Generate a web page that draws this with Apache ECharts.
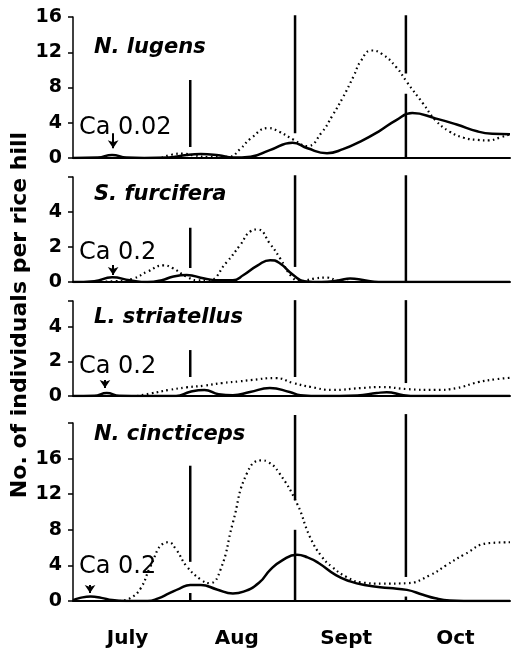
<!DOCTYPE html>
<html><head><meta charset="utf-8">
<script src="https://cdn.jsdelivr.net/npm/echarts@6/dist/echarts.min.js"></script>
<style>html,body{margin:0;padding:0;background:#fff}#c{width:514px;height:649px}</style>
</head><body><div id="c"></div>
<script>
// x values are days counted from 1 July
const months = ['July', 'Aug', 'Sept', 'Oct'];
const species = ['N. lugens', 'S. furcifera', 'L. striatellus', 'N. cincticeps'];
const caLabels = ['Ca 0.02', 'Ca 0.2', 'Ca 0.2', 'Ca 0.2'];
const yMax = [16, 6, 5.5, 20];
const yStep = [4, 2, 2, 4];
const yLabelMax = [16, 4, 4, 16];
const yTitle = 'No. of individuals per rice hill';

const lugensSolid = [[0,0],[7,0.05],[11,0.35],[15,0.05],[20,0],[27,0.05],[32,0.35],[36,0.45],[41,0.3],[45,0.05],[50,0.15],[55.4,0.9],[61.8,1.74],[66,1.1],[71.5,0.55],[76,1.0],[81,1.9],[86,3.0],[91,4.3],[95.5,5.1],[102,4.5],[108,3.8],[114,3.0],[118,2.75],[123,2.7]];
const lugensDotted = [[25,0],[28,0.4],[31,0.5],[34,0.3],[38,0.1],[44,0.15],[47,1.0],[50,2.2],[55,3.4],[58,3.0],[62,2.1],[66,1.35],[70,2.9],[73,4.8],[76,6.9],[79,9.3],[81,11.0],[84,12.2],[87,11.8],[91,10.3],[94,8.6],[98.5,6.2],[102,4.3],[106,3.0],[110,2.3],[114,2.05],[117,2.0],[120,2.3],[123,2.7]];

const furciferaSolid = [[0,0],[6,0.05],[11,0.27],[16,0.1],[21,0],[25,0.1],[28,0.3],[32,0.4],[37,0.2],[41,0.1],[45,0.1],[48,0.4],[52,0.95],[55.5,1.25],[58,1.1],[62,0.4],[65,0.05],[70,0],[75,0.1],[78,0.2],[82,0.1],[86,0],[123,0]];
const furciferaDotted = [[5,0],[12,0.05],[17,0.2],[21,0.6],[25.5,0.95],[28,0.8],[32,0.3],[35,0.1],[38,0.1],[43.3,1.15],[47,2.1],[50,2.9],[52,3.0],[55.4,2.2],[58.3,1.35],[61.6,0.3],[64,0.05],[68,0.2],[71.5,0.25],[75,0.05],[80,0],[123,0]];

const striatellusSolid = [[0,0],[6,0.02],[9.5,0.17],[13,0.02],[20,0],[29,0],[33,0.25],[37,0.35],[41,0.1],[45,0.05],[49.8,0.23],[55.4,0.46],[61,0.23],[64,0.05],[70,0],[80,0.03],[85.5,0.17],[88.3,0.22],[93,0.05],[97,0],[123,0]];
const striatellusDotted = [[18,0],[22,0.15],[27,0.35],[32,0.5],[37,0.6],[42,0.75],[47,0.85],[50,0.92],[57,1.04],[62,0.75],[67,0.52],[73,0.35],[81,0.46],[87,0.52],[94,0.4],[102,0.35],[108,0.46],[114,0.8],[119,0.97],[123,1.05]];

const cincticepsSolid = [[0,0.1],[2,0.35],[5,0.5],[8,0.35],[11,0.1],[15,0],[21,0],[24,0.3],[27,0.85],[30,1.4],[33,1.8],[36,1.8],[40.5,1.3],[45,0.85],[48,1.05],[52.5,2.1],[55.5,3.5],[59,4.6],[63,5.2],[66,4.9],[69,4.3],[74,2.9],[78,2.2],[82,1.8],[89,1.45],[94,1.25],[98.5,0.7],[102,0.3],[106,0.05],[110,0],[123,0]];
const cincticepsDotted = [[13,0],[16,0.3],[19,1.4],[21.7,3.8],[25.5,6.5],[26.8,6.6],[29,5.8],[32,3.9],[36,2.4],[38.5,2.0],[41.5,3.5],[45,8.8],[49,14.4],[53,15.8],[55,15.6],[58,14.4],[63,11],[66.7,7.2],[70,5.0],[73,3.8],[77,2.7],[81,2.1],[87,1.95],[94,2.0],[100.5,2.9],[105,4.0],[110,5.2],[117,6.5],[123,6.6]];

// vertical application markers: [day, from, to]
const vLines = [
  [[33,1.25,8.85],[62.5,2.8,16.2],[93.7,9.6,16.2],[93.7,0,7.3]],
  [[33,0.8,3.1],[62.5,0.86,6.1],[93.7,0,6.1]],
  [[33,1.1,2.66],[62.5,1.1,5.55],[93.7,0.75,5.55]],
  [[33,4.4,15.2],[33,0,0.9],[62.5,11.3,20.9],[62.5,0,8.0],[93.7,2.7,21],[93.7,0,0.5]]
];
// arrows under the Ca labels: [day, from, to]
const arrows = [[11.3,2.8,1.1],[11.3,0.97,0.4],[9,0.92,0.46],[4.8,1.8,0.9]];

const solids = [lugensSolid, furciferaSolid, striatellusSolid, cincticepsSolid];
const dotteds = [lugensDotted, furciferaDotted, striatellusDotted, cincticepsDotted];

const gridTop = [17, 177, 301, 423];
const gridH = [141, 105, 95, 178];
const titleY = [48, 195, 318, 435];
const caY = [128, 253, 367, 567];

const FONT = '"DejaVu Sans", sans-serif';
const grids = [], xAxes = [], yAxes = [], series = [], graphics = [];
for (let i = 0; i < 4; i++) {
  grids.push({left: 73, width: 437, top: gridTop[i], height: gridH[i]});
  xAxes.push({type: 'value', gridIndex: i, min: 0, max: 123,
    axisLine: {show: true, onZero: false, lineStyle: {color: '#000', width: 2}},
    axisTick: {show: false}, axisLabel: {show: false}, splitLine: {show: false}});
  const st = yStep[i], lm = yLabelMax[i];
  yAxes.push({type: 'value', gridIndex: i, min: 0, max: yMax[i], interval: st,
    axisLine: {show: true, lineStyle: {color: '#000', width: 1.5}},
    axisTick: {show: true, length: 5, lineStyle: {color: '#000', width: 1.5}},
    splitLine: {show: false},
    axisLabel: {margin: 11, color: '#000', fontFamily: FONT, fontWeight: 'bold', fontSize: 19,
      formatter: v => (v <= lm && Math.abs(v % st) < 1e-9) ? String(v) : ''}});
  series.push({type: 'line', xAxisIndex: i, yAxisIndex: i, data: dotteds[i], smooth: 0.5,
    showSymbol: false, silent: true, lineStyle: {color: '#000', width: 2.2, type: [1.6, 3.4]}});
  series.push({type: 'line', xAxisIndex: i, yAxisIndex: i, data: solids[i], smooth: 0.5,
    showSymbol: false, silent: true, lineStyle: {color: '#000', width: 2.5}});
  vLines[i].forEach(v => {
    series.push({type: 'line', xAxisIndex: i, yAxisIndex: i, data: [[v[0], v[1]], [v[0], v[2]]],
      showSymbol: false, symbol: 'none', clip: false, silent: true, z: 3,
      lineStyle: {color: '#000', width: 2.5}});
  });
  const a = arrows[i];
  series.push({type: 'line', xAxisIndex: i, yAxisIndex: i, data: [], silent: true,
    markLine: {silent: true, symbol: ['none', 'arrow'], symbolSize: 8, label: {show: false},
      lineStyle: {color: '#000', width: 2, type: 'solid'},
      data: [[{coord: [a[0], a[1]]}, {coord: [a[0], a[2]]}]]}});
  graphics.push({type: 'text', x: 94, y: titleY[i], style: {text: species[i], fill: '#000',
    font: 'italic bold 21px ' + FONT, align: 'left', verticalAlign: 'middle'}});
  graphics.push({type: 'text', x: 79, y: caY[i], style: {text: caLabels[i], fill: '#000',
    font: '24px ' + FONT, align: 'left', verticalAlign: 'middle'}});
}
xAxes.push({type: 'category', gridIndex: 3, data: months, position: 'bottom',
  axisLine: {show: false}, axisTick: {show: false},
  axisLabel: {margin: 28, color: '#000', fontFamily: FONT, fontWeight: 'bold', fontSize: 20}});
graphics.push({type: 'text', x: 20, y: 315, rotation: Math.PI / 2,
  style: {text: yTitle, fill: '#000', font: 'bold 22px ' + FONT, align: 'center', verticalAlign: 'middle'}});

const chart = echarts.init(document.getElementById('c'), null, {renderer: 'canvas'});
chart.setOption({animation: false, backgroundColor: '#fff', grid: grids, xAxis: xAxes, yAxis: yAxes,
  series: series, graphic: graphics});
</script></body></html>
